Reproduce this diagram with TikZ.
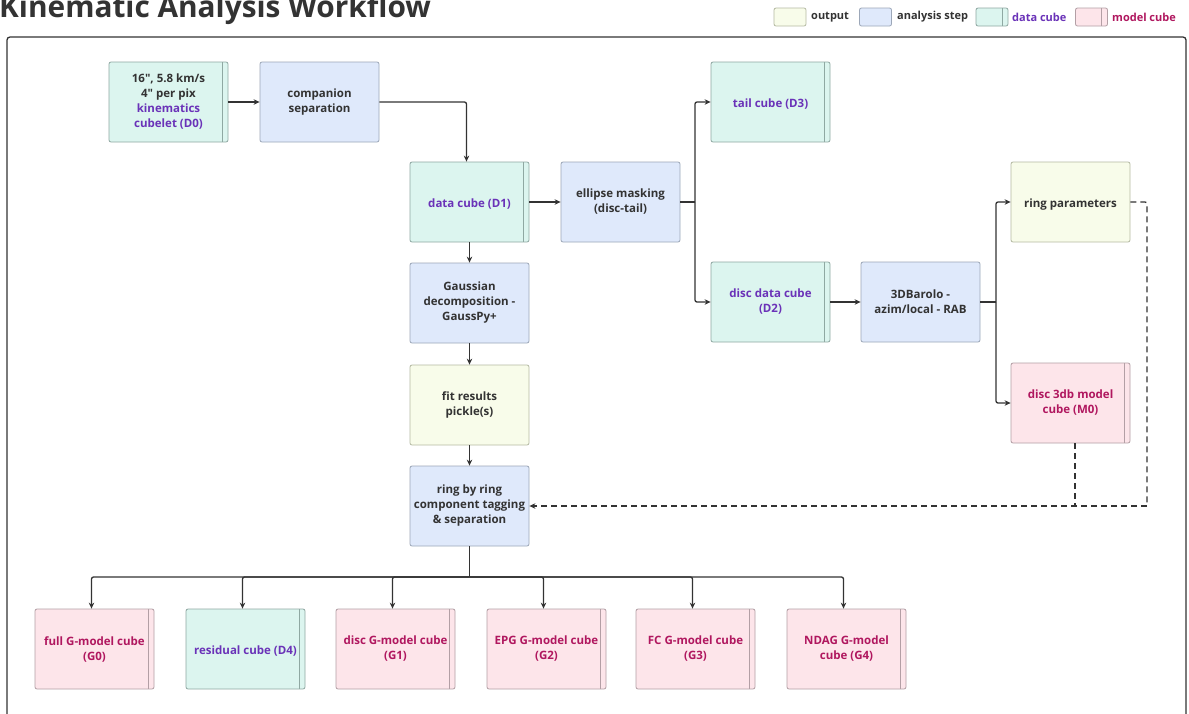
\documentclass[tikz,border=0pt]{standalone}
\usepackage{fontspec}
\setmainfont{Open Sans}[Ligatures=TeXOff]
\usetikzlibrary{arrows.meta}

\definecolor{ink}{HTML}{333333}
\definecolor{outfill}{HTML}{F8FCEA}
\definecolor{outline}{HTML}{B5BAA3}
\definecolor{stepfill}{HTML}{DFE9FB}
\definecolor{stepline}{HTML}{9CA7B8}
\definecolor{datafill}{HTML}{DCF5EF}
\definecolor{dataline}{HTML}{8FA8A2}
\definecolor{modelfill}{HTML}{FDE5EA}
\definecolor{modelline}{HTML}{B39FA5}
\definecolor{datatext}{HTML}{6A32B8}
\definecolor{modeltext}{HTML}{B0175F}

\tikzset{
  base/.style={rounded corners=2pt, line width=0.8pt, minimum width=119pt,
    minimum height=80pt, align=center, inner sep=2pt,
    font=\fontsize{11.5}{15}\selectfont\bfseries, text=ink,
    execute at begin node={\rule{0pt}{13pt}}},
  outbox/.style={base, fill=outfill, draw=outline},
  stepbox/.style={base, fill=stepfill, draw=stepline},
  cubestrip/.style={path picture={\draw[line width=0.8pt, draw=#1]
      ([xshift=-6pt]path picture bounding box.north east) --
      ([xshift=-6pt]path picture bounding box.south east);}},
  databox/.style={base, fill=datafill, draw=dataline, text=datatext, cubestrip=dataline},
  modelbox/.style={base, fill=modelfill, draw=modelline, text=modeltext, cubestrip=modelline},
  conn/.style={draw=ink, line width=1.3pt, rounded corners=2pt},
  arr/.style={conn, -{Stealth[length=6pt,width=5.5pt]}},
  darr/.style={arr, dash pattern=on 6pt off 4pt},
  dline/.style={conn, dash pattern=on 6pt off 4pt},
  legbox/.style={rounded corners=2pt, line width=0.8pt, minimum width=32pt, minimum height=18pt, inner sep=0pt},
  legtext/.style={anchor=west, inner sep=0pt, font=\fontsize{11}{13}\selectfont\bfseries},
}

\begin{document}
\begin{tikzpicture}[x=1pt,y=-1pt]
\useasboundingbox[fill=white] (0,0) rectangle (1189,713);

% title and outer frame
\node[anchor=base west, inner sep=0pt, text=ink, font=\fontsize{29.8}{33}\selectfont\bfseries] (title) at (-1,17.5) {Kinematic Analysis Workflow};
\draw[draw=ink, line width=1.3pt, rounded corners=3pt] (7,37) rectangle (1186,740);

% legend
\node[legbox, fill=outfill, draw=outline] (l1) at (790,17) {};
\node[legtext, text=ink] (l1t) at (811,17) {output};
\node[legbox, fill=stepfill, draw=stepline] (l2) at (875.5,17) {};
\node[legtext, text=ink] (l2t) at (897,17) {analysis step};
\node[legbox, fill=datafill, draw=dataline, cubestrip=dataline] (l3) at (992,17) {};
\node[legtext, text=datatext] (l3t) at (1012,17) {data cube};
\node[legbox, fill=modelfill, draw=modelline, cubestrip=modelline] (l4) at (1091.5,17) {};
\node[legtext, text=modeltext] (l4t) at (1112,17) {model cube};

% upper part of the workflow
\node[databox, text=ink] (d0) at (168.5,102) {16", 5.8 km/s\\4" per pix\\\textcolor{datatext}{kinematics}\\\textcolor{datatext}{cubelet (D0)}};
\node[stepbox] (comp) at (319.5,102) {companion\\separation};
\node[databox] (d1) at (469.5,202) {data cube (D1)};
\node[stepbox] (ell) at (620.5,202) {ellipse masking\\(disc-tail)};
\node[databox] (d3) at (770.5,102) {tail cube (D3)};
\node[databox] (d2) at (770.5,302) {disc data cube\\(D2)};
\node[stepbox] (bar) at (920.5,302) {3DBarolo -\\azim/local - RAB};
\node[outbox] (rp) at (1070.5,202) {ring parameters};
\node[modelbox] (m0) at (1070.5,403) {disc 3db model\\cube (M0)};
\node[stepbox] (gauss) at (469.5,303) {Gaussian\\decomposition -\\GaussPy+};
\node[outbox] (fit) at (469.5,405) {fit results\\pickle(s)};
\node[stepbox] (ring) at (469.5,506) {ring by ring\\component tagging\\\& separation};

% products
\node[modelbox] (g0) at (94.5,649) {full G-model cube\\(G0)};
\node[databox] (d4) at (245.5,649) {residual cube (D4)};
\node[modelbox] (g1) at (395.5,649) {disc G-model cube\\(G1)};
\node[modelbox] (g2) at (546.5,649) {EPG G-model cube\\(G2)};
\node[modelbox] (g3) at (695.5,649) {FC G-model cube\\(G3)};
\node[modelbox] (g4) at (846.5,649) {NDAG G-model\\cube (G4)};

% junction points
\coordinate (s1) at (695,202);
\coordinate (s2) at (996,302);
\coordinate (c1) at (1147,202);
\coordinate (c2) at (1147,506);
\coordinate (c3) at (1075,506);
\coordinate (bus) at (469.5,577);

% connectors
\draw[arr] (d0.east) -- (comp.west);
\draw[arr] (comp.east) -| ([xshift=-3pt]d1.north);
\draw[arr] (d1.east) -- (ell.west);
\draw[conn] (ell.east) -- (s1);
\draw[arr] (s1) |- (d3.west);
\draw[arr] (s1) |- (d2.west);
\draw[arr] (d2.east) -- (bar.west);
\draw[conn] (bar.east) -- (s2);
\draw[arr] (s2) |- (rp.west);
\draw[arr] (s2) |- (m0.west);
\draw[arr] (d1.south) -- (gauss.north);
\draw[arr] (gauss.south) -- (fit.north);
\draw[arr] (fit.south) -- (ring.north);
\draw[dline] (rp.east) -- (c1) -- (c2);
\draw[dline] ([xshift=4.5pt]m0.south) -- (c3);
\draw[darr] (c2) -- (ring.east);

\draw[conn] (ring.south) -- (bus);
\foreach \n in {g0,d4,g1,g2,g3,g4}{
  \draw[arr] (bus) -| ([xshift=-3pt]\n.north);
}
\end{tikzpicture}
\end{document}
